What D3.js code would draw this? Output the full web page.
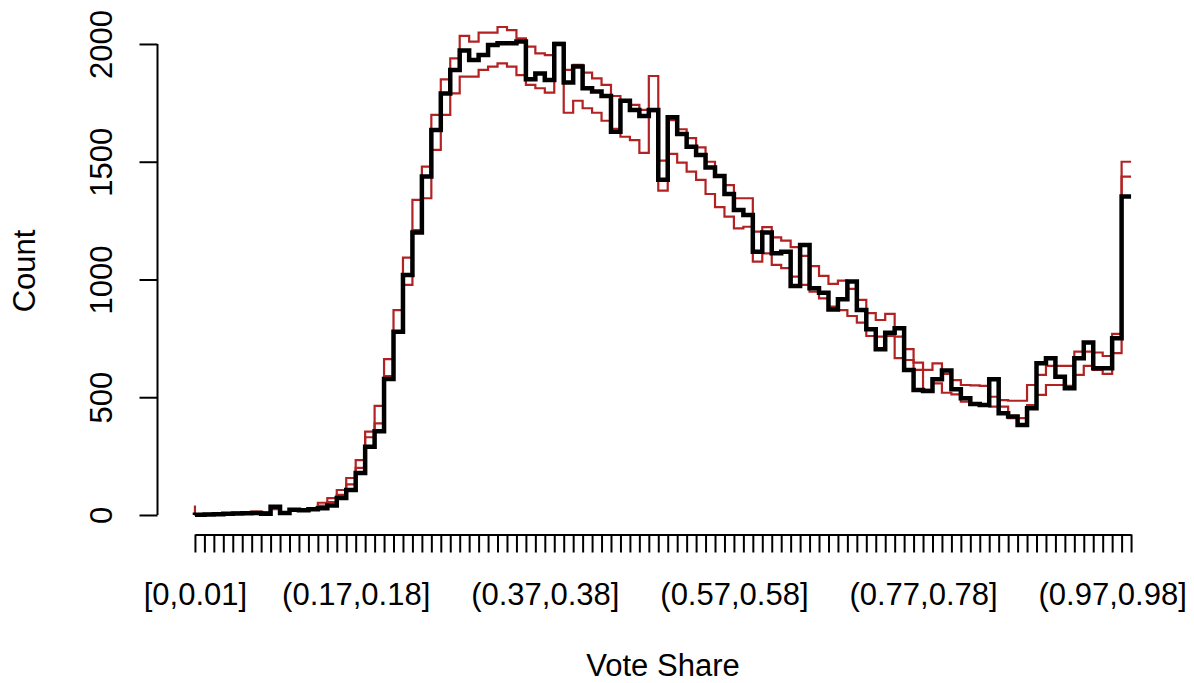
<!DOCTYPE html>
<html>
<head>
<meta charset="utf-8">
<script src="https://cdn.jsdelivr.net/npm/d3@7"></script>
<style>
  html, body { margin: 0; padding: 0; background: #ffffff; }
  svg { display: block; font-family: "Liberation Sans", Arial, Helvetica, sans-serif; }
</style>
</head>
<body>
<svg id="chart" width="1194" height="683"></svg>
<script>
// ---------------- data ----------------
const categories = [
  "[0,0.01]","(0.01,0.02]","(0.02,0.03]","(0.03,0.04]","(0.04,0.05]","(0.05,0.06]","(0.06,0.07]","(0.07,0.08]","(0.08,0.09]","(0.09,0.1]",
  "(0.1,0.11]","(0.11,0.12]","(0.12,0.13]","(0.13,0.14]","(0.14,0.15]","(0.15,0.16]","(0.16,0.17]","(0.17,0.18]","(0.18,0.19]","(0.19,0.2]",
  "(0.2,0.21]","(0.21,0.22]","(0.22,0.23]","(0.23,0.24]","(0.24,0.25]","(0.25,0.26]","(0.26,0.27]","(0.27,0.28]","(0.28,0.29]","(0.29,0.3]",
  "(0.3,0.31]","(0.31,0.32]","(0.32,0.33]","(0.33,0.34]","(0.34,0.35]","(0.35,0.36]","(0.36,0.37]","(0.37,0.38]","(0.38,0.39]","(0.39,0.4]",
  "(0.4,0.41]","(0.41,0.42]","(0.42,0.43]","(0.43,0.44]","(0.44,0.45]","(0.45,0.46]","(0.46,0.47]","(0.47,0.48]","(0.48,0.49]","(0.49,0.5]",
  "(0.5,0.51]","(0.51,0.52]","(0.52,0.53]","(0.53,0.54]","(0.54,0.55]","(0.55,0.56]","(0.56,0.57]","(0.57,0.58]","(0.58,0.59]","(0.59,0.6]",
  "(0.6,0.61]","(0.61,0.62]","(0.62,0.63]","(0.63,0.64]","(0.64,0.65]","(0.65,0.66]","(0.66,0.67]","(0.67,0.68]","(0.68,0.69]","(0.69,0.7]",
  "(0.7,0.71]","(0.71,0.72]","(0.72,0.73]","(0.73,0.74]","(0.74,0.75]","(0.75,0.76]","(0.76,0.77]","(0.77,0.78]","(0.78,0.79]","(0.79,0.8]",
  "(0.8,0.81]","(0.81,0.82]","(0.82,0.83]","(0.83,0.84]","(0.84,0.85]","(0.85,0.86]","(0.86,0.87]","(0.87,0.88]","(0.88,0.89]","(0.89,0.9]",
  "(0.9,0.91]","(0.91,0.92]","(0.92,0.93]","(0.93,0.94]","(0.94,0.95]","(0.95,0.96]","(0.96,0.97]","(0.97,0.98]","(0.98,0.99]","(0.99,1]"
];

// observed counts (black)
const observed = [
  0,1,2,3,5,6,7,8,5,35,
  8,22,20,24,29,40,72,106,178,290,
  356,577,778,1019,1200,1437,1635,1790,1890,1972,
  1932,1953,1996,2003,2003,2010,1850,1875,1847,2000,
  1836,1904,1812,1798,1779,1627,1759,1720,1694,1720,
  1423,1689,1618,1564,1529,1476,1439,1363,1295,1274,
  1118,1199,1111,1118,972,1146,963,944,873,916,
  991,870,789,704,774,793,616,531,526,576,
  613,534,496,471,467,576,432,418,382,453,
  644,665,587,538,665,732,623,623,750,1352
];

// upper red reference series
const upperBand = [
  40,3,5,7,8,10,12,14,12,25,
  12,22,24,28,52,72,106,157,233,354,
  463,662,870,1093,1338,1479,1699,1850,1939,2034,
  2010,2048,2048,2072,2059,2024,1989,1960,1953,2005,
  1890,1911,1878,1854,1826,1779,1759,1741,1720,1715,
  1505,1677,1638,1600,1561,1500,1439,1401,1345,1345,
  1203,1222,1179,1165,1137,1100,1057,1015,981,995,
  960,913,857,828,854,757,704,647,616,644,
  599,573,552,550,548,502,488,485,485,552,
  595,633,633,633,694,694,690,675,769,1500
];

// lower red reference series
const lowerBand = [
  0,2,3,5,6,8,9,10,10,28,
  10,18,20,24,40,55,85,130,200,330,
  389,590,775,977,1210,1345,1550,1699,1790,1861,
  1861,1890,1904,1918,1904,1868,1826,1812,1793,2000,
  1708,1759,1727,1708,1674,1640,1606,1592,1538,1864,
  1377,1533,1496,1458,1423,1363,1307,1267,1217,1224,
  1076,1111,1062,1048,1012,977,948,920,885,870,
  845,817,760,757,760,666,658,616,531,559,
  519,512,481,471,463,460,460,411,411,467,
  510,552,552,548,595,633,616,599,687,1437
];

const yTickValues = [0, 500, 1000, 1500, 2000];
const xTickLabelsShown = ["[0,0.01]", "(0.17,0.18]", "(0.37,0.38]", "(0.57,0.58]", "(0.77,0.78]", "(0.97,0.98]"];
const xTitle = "Vote Share";
const yTitle = "Count";

// ---------------- layout ----------------
const svg = d3.select("#chart");
const plotLeft = 157.5, plotRight = 1168.5, plotTop = 7.5, plotBottom = 534.5;
const fontSize = 31;

// x: points 1..n with R-style 4% padding
const padX = (plotRight - plotLeft) * 0.04 / 1.08;
const x = d3.scalePoint().domain(categories).range([plotLeft + padX, plotRight - padX]);

const allVals = observed.concat(upperBand, lowerBand);
const yMin = d3.min(allVals), yMax = d3.max(allVals);
const yPad = (yMax - yMin) * 0.04;
const y = d3.scaleLinear().domain([yMin - yPad, yMax + yPad]).range([plotBottom, plotTop]);

// ---------------- series ----------------
const line = d3.line()
  .x((d, i) => x(categories[i]))
  .y(d => y(d))
  .curve(d3.curveStepBefore);

svg.append("path").datum(upperBand)
  .attr("d", line).attr("fill", "none")
  .attr("stroke", "#B22222").attr("stroke-width", 2.2).attr("stroke-linejoin", "miter");
svg.append("path").datum(lowerBand)
  .attr("d", line).attr("fill", "none")
  .attr("stroke", "#B22222").attr("stroke-width", 2.2).attr("stroke-linejoin", "miter");
svg.append("path").datum(observed)
  .attr("d", line).attr("fill", "none")
  .attr("stroke", "#000000").attr("stroke-width", 4.5).attr("stroke-linejoin", "miter");

// ---------------- x axis ----------------
const xAxis = d3.axisBottom(x)
  .tickValues(categories)
  .tickSize(18)
  .tickSizeOuter(0)
  .tickFormat(d => xTickLabelsShown.includes(d) ? d : "");
const gx = svg.append("g").attr("transform", `translate(0,${plotBottom})`).call(xAxis);
gx.select(".domain").attr("stroke", "#000").attr("stroke-width", 2);
gx.selectAll(".tick line").attr("stroke", "#000").attr("stroke-width", 2);
gx.selectAll(".tick text")
  .attr("y", 70.5).attr("dy", "0")
  .attr("font-size", fontSize).attr("font-family", "Liberation Sans, Arial, sans-serif")
  .attr("fill", "#000");

// ---------------- y axis ----------------
const yAxis = d3.axisLeft(y).tickValues(yTickValues).tickSize(18).tickFormat(d3.format("d"));
const gy = svg.append("g").attr("transform", `translate(${plotLeft},0)`).call(yAxis);
gy.select(".domain").remove();
gy.append("line")
  .attr("x1", 0).attr("x2", 0)
  .attr("y1", y(yTickValues[0])).attr("y2", y(yTickValues[yTickValues.length - 1]))
  .attr("stroke", "#000").attr("stroke-width", 2);
gy.selectAll(".tick line").attr("stroke", "#000").attr("stroke-width", 2);
gy.selectAll(".tick text")
  .attr("x", 0).attr("y", 0).attr("dy", "0")
  .attr("transform", "translate(-45.8,0) rotate(-90)")
  .attr("text-anchor", "middle")
  .attr("font-size", fontSize).attr("font-family", "Liberation Sans, Arial, sans-serif")
  .attr("fill", "#000");

// ---------------- titles ----------------
svg.append("text")
  .attr("x", (plotLeft + plotRight) / 2).attr("y", 676)
  .attr("text-anchor", "middle").attr("font-size", fontSize).attr("fill", "#000")
  .text(xTitle);
svg.append("text")
  .attr("transform", `translate(35,${(plotTop + plotBottom) / 2}) rotate(-90)`)
  .attr("text-anchor", "middle").attr("font-size", fontSize).attr("fill", "#000")
  .text(yTitle);
</script>
</body>
</html>
